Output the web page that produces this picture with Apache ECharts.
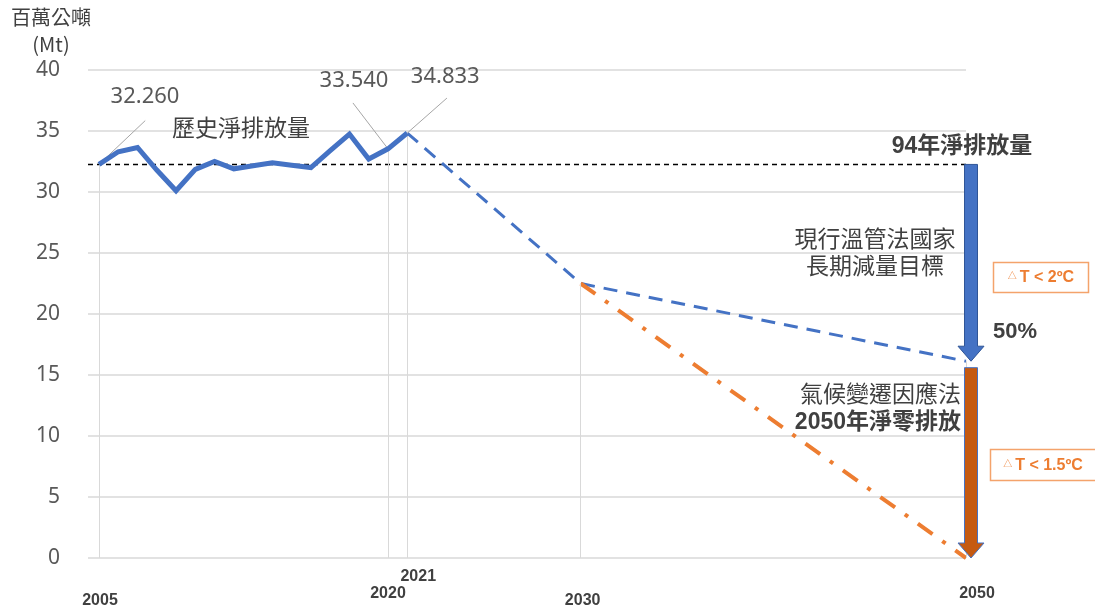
<!DOCTYPE html>
<html><head><meta charset="utf-8">
<script src="https://cdn.jsdelivr.net/npm/echarts@6/dist/echarts.min.js"></script>
<style>html,body{margin:0;padding:0;background:#fff}#c{width:1095px;height:606px}</style>
</head><body><div id="c"></div>
<script>
// ---- data ----
const histYears = [2005,2006,2007,2008,2009,2010,2011,2012,2013,2014,2015,2016,2017,2018,2019,2020,2021];
const histValues = [32.26,33.3,33.65,31.8,30.1,31.85,32.5,31.9,32.15,32.4,32.2,32.0,33.4,34.75,32.7,33.54,34.833];
const nationalYears = [2021,2030,2050];
const nationalValues = [34.833,22.5,16.13];
const netZeroYears = [2030,2050];
const netZeroValues = [22.5,0];
const baselineValue = 32.26;
const xTickValues = [2005,2020,2021,2030,2050];
const labelledYears = [2005,2020,2021];
const labelledTexts = ['32.260','33.540','34.833'];
const dropYears = [2005,2020,2021,2030,2050];
const arrowYear = 2050.26;
const arrowTops = [32.26,15.6];
const arrowTips = [16.13,0];

const CJK = "'Noto Sans CJK TC', sans-serif";
const LAT = "'Liberation Sans', 'Noto Sans CJK TC', sans-serif";

function valueAt(year){
  let i = histYears.indexOf(year);
  if (i >= 0) return histValues[i];
  i = nationalYears.indexOf(year);
  return nationalValues[i];
}

const labelOffsets = {2005:[46,-68],2020:[-34,-68],2021:[38,-56]};
const histData = histYears.map((y,i)=>{
  const k = labelledYears.indexOf(y);
  const item = {value:[y,histValues[i]]};
  if (k >= 0) {
    item.label = {show:true, position:'inside', offset:labelOffsets[y], formatter:labelledTexts[k],
      fontSize:22, color:'#595959', fontFamily:"'Noto Sans', sans-serif"};
  }
  return item;
});

const leaderEnds = {2005:[2007.4,35.85],2020:[2018.18,37.3],2021:[2023.06,37.7]};

const chart = echarts.init(document.getElementById('c'), null, {renderer:'canvas'});
chart.setOption({
  backgroundColor:'#ffffff',
  animation:false,
  grid:{left:88, right:129, top:70, bottom:48, containLabel:false, outerBoundsMode:'none'},
  xAxis:{
    type:'value', min:2004.43, max:2050,
    axisLine:{show:false}, axisTick:{show:false}, splitLine:{show:false},
    axisLabel:{
      customValues:xTickValues, margin:10, fontSize:16, fontWeight:'bold', color:'#404040', fontFamily:LAT,
      formatter:function(v){
        const r = {2005:'a',2020:'b',2021:'c',2030:'d',2050:'e'}[Math.round(v)];
        return '{' + r + '|' + Math.round(v) + '}';
      },
      rich:{
        a:{fontSize:16,fontWeight:'bold',color:'#404040',fontFamily:LAT,lineHeight:18,padding:[47,0,0,2]},
        b:{fontSize:16,fontWeight:'bold',color:'#404040',fontFamily:LAT,lineHeight:18,padding:[34,0,0,0]},
        c:{fontSize:16,fontWeight:'bold',color:'#404040',fontFamily:LAT,lineHeight:18,padding:[0,0,0,22]},
        d:{fontSize:16,fontWeight:'bold',color:'#404040',fontFamily:LAT,lineHeight:18,padding:[47,0,0,4]},
        e:{fontSize:16,fontWeight:'bold',color:'#404040',fontFamily:LAT,lineHeight:18,padding:[34,0,0,22]}
      }
    }
  },
  yAxis:{
    type:'value', min:0, max:40, interval:5,
    name:'百萬公噸\n(Mt)', nameLocation:'end', nameGap:12,
    nameTextStyle:{align:'center', verticalAlign:'bottom', padding:[0,74,0,0], fontSize:20, lineHeight:27, color:'#404040', fontFamily:CJK},
    axisLine:{show:false}, axisTick:{show:false},
    axisLabel:{margin:28, fontSize:21, color:'#595959', fontFamily:"'Noto Sans', sans-serif"},
    splitLine:{lineStyle:{color:'#d9d9d9', width:1.5}}
  },
  series:[
    { // drop lines
      type:'line', data:[], silent:true,
      markLine:{silent:true, symbol:['none','none'], label:{show:false},
        lineStyle:{color:'#d9d9d9', width:1, type:'solid'},
        data: dropYears.map(y=>[{coord:[y,valueAt(y)]},{coord:[y,0]}])
      }
    },
    { // baseline
      type:'line', clip:false, silent:true, symbol:'none',
      data:[[2004.43,baselineValue],[2051.35,baselineValue]],
      lineStyle:{color:'#000000', width:1.4, type:[5,4]}, z:3
    },
    { // national target projection
      type:'line', symbol:'none', data:nationalYears.map((y,i)=>[y,nationalValues[i]]),
      lineStyle:{color:'#4472c4', width:3, type:[14,9]}, z:4
    },
    { // net zero
      type:'line', symbol:'none', data:netZeroYears.map((y,i)=>[y,netZeroValues[i]]),
      lineStyle:{color:'#ed7d31', width:4, type:[18,12,4,12]}, z:4
    },
    { // history
      type:'line', data:histData, symbol:'circle', symbolSize:0, showSymbol:true,
      lineStyle:{color:'#4472c4', width:5, join:'miter'}, itemStyle:{color:'#4472c4'}, z:5,
      markLine:{silent:true, symbol:['none','none'], label:{show:false},
        lineStyle:{color:'#a6a6a6', width:1, type:'solid'},
        data: labelledYears.map(y=>[{coord:[y,valueAt(y)]},{coord:leaderEnds[y]}])
      }
    },
    { // arrows
      type:'custom', clip:false, z:6,
      data: arrowTops.map((t,i)=>[arrowYear,t,arrowTips[i],i]),
      encode:{x:0,y:[1,2]},
      renderItem:function(params, api){
        const top = api.coord([api.value(0), api.value(1)]);
        const tip = api.coord([api.value(0), api.value(2)]);
        const i = api.value(3);
        const bw=6.5, hw=13, hl=15, x=top[0], hb=tip[1]-hl;
        const fills=['#4472c4','#c55a11'], strokes=['#2f5597','#4472c4'];
        return {type:'polygon', shape:{points:[[x-bw,top[1]],[x+bw,top[1]],[x+bw,hb],[x+hw,hb],[x,tip[1]],[x-hw,hb],[x-bw,hb]]},
          style:{fill:fills[i], stroke:strokes[i], lineWidth:1}};
      }
    }
  ],
  graphic:[
    {type:'text', x:241, y:127, z:10, style:{text:'歷史淨排放量', fontSize:23, fill:'#404040', fontFamily:CJK, align:'center', verticalAlign:'middle'}},
    {type:'text', x:962, y:147, z:10, style:{text:'94年淨排放量', fontSize:23, fontWeight:'bold', fill:'#404040', fontFamily:LAT, align:'center', verticalAlign:'middle'}},
    {type:'text', x:875, y:252, z:10, style:{text:'現行溫管法國家\n長期減量目標', fontSize:23, lineHeight:27, fill:'#404040', fontFamily:CJK, align:'center', verticalAlign:'middle'}},
    {type:'text', x:961, y:408, z:10, style:{text:'{a|氣候變遷因應法}\n{b|2050年淨零排放}', align:'right', verticalAlign:'middle',
      rich:{a:{fontSize:23, lineHeight:29, fill:'#404040', fontFamily:CJK, align:'right'}, b:{fontSize:23, lineHeight:29, fontWeight:'bold', fill:'#404040', fontFamily:LAT, align:'right'}}}},
    {type:'text', x:1015, y:332, z:10, style:{text:'50%', fontSize:22, fontWeight:'bold', fill:'#404040', fontFamily:LAT, align:'center', verticalAlign:'middle'}},
    {type:'rect', shape:{x:993.5, y:262.5, width:95, height:30}, z:10, style:{fill:'#ffffff', stroke:'#f4a36b', lineWidth:1.5}},
    {type:'text', x:1041, y:278, z:11, style:{text:'{t|△}{m|T < 2ºC}', align:'center', verticalAlign:'middle',
      rich:{t:{fontSize:9, fill:'#ed7d31', fontFamily:CJK, padding:[0,3,4,0]}, m:{fontSize:16, fontWeight:'bold', fill:'#ed7d31', fontFamily:LAT}}}},
    {type:'rect', shape:{x:990.5, y:449.5, width:110, height:31}, z:10, style:{fill:'#ffffff', stroke:'#f4a36b', lineWidth:1.5}},
    {type:'text', x:1043, y:466, z:11, style:{text:'{t|△}{m|T < 1.5ºC}', align:'center', verticalAlign:'middle',
      rich:{t:{fontSize:9, fill:'#ed7d31', fontFamily:CJK, padding:[0,3,4,0]}, m:{fontSize:16, fontWeight:'bold', fill:'#ed7d31', fontFamily:LAT}}}}
  ]
});
</script></body></html>
